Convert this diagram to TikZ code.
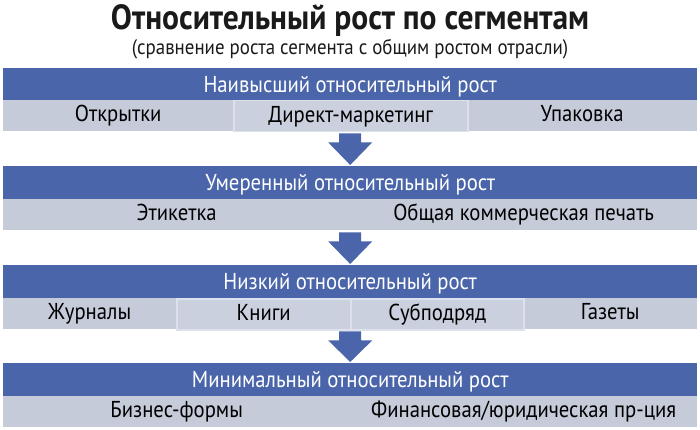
\documentclass[tikz,border=0pt]{standalone}
\usepackage{fontspec}
\setmainfont{PT Sans}[FakeStretch=0.9]
\usetikzlibrary{calc}
\definecolor{hdrblue}{HTML}{4A65A9}
\definecolor{rowgray}{HTML}{C5CBD9}
\definecolor{cellgray}{HTML}{CAD0DD}
\definecolor{cellline}{HTML}{DCE1EB}
\definecolor{titlec}{HTML}{1A1A1A}
\tikzset{
  hdr/.style={fill=hdrblue, text=white, inner sep=0pt, minimum width=694pt, minimum height=33pt, anchor=north west, text height=16pt, text depth=0pt, font=\fontsize{23}{23}\selectfont},
  rowbar/.style={fill=rowgray, inner sep=0pt, minimum width=694pt, minimum height=31pt, anchor=north west},
  cell/.style={inner sep=0pt, minimum height=31pt, anchor=north west, text=black, text height=16pt, text depth=4pt, font=\fontsize{23}{23}\selectfont},
  hicell/.style={cell, fill=cellgray, draw=cellline, line width=1.5pt},
  blockarrow/.style={fill=hdrblue},
}
\begin{document}
\begin{tikzpicture}[x=1pt,y=-1pt]
\useasboundingbox[fill=white] (0,0) rectangle (700,430);
\node[font=\bfseries\fontsize{35}{35}\selectfont, text=titlec, inner sep=0pt, anchor=base] (title) at (350,30) {Относительный рост по сегментам};
\node[font=\fontsize{21}{21}\selectfont, text=titlec, inner sep=0pt, anchor=base] (sub) at (350,55) {(сравнение роста сегмента с общим ростом отрасли)};
% band 1
\node[hdr] (h1) at (3,68) {Наивысший относительный рост};
\node[rowbar] (r1) at (3,100) {};
\node[cell, minimum width=230pt] (c11) at (3,100) {Открытки};
\node[hicell, minimum width=234pt] (c12) at (233,100) {Директ-маркетинг};
\node[cell, minimum width=230pt] (c13) at (467,100) {Упаковка};
% band 2
\node[hdr] (h2) at (3,166) {Умеренный относительный рост};
\node[rowbar] (r2) at (3,199) {};
\node[cell, minimum width=347pt] (c21) at (3,199) {Этикетка};
\node[cell, minimum width=347pt] (c22) at (350,199) {Общая коммерческая печать};
% band 3
\node[hdr] (h3) at (3,265) {Низкий относительный рост};
\node[rowbar] (r3) at (3,298) {};
\node[cell, minimum width=173pt] (c31) at (3,298) {Журналы};
\node[hicell, minimum width=174pt] (c32) at (176,298) {Книги};
\node[hicell, minimum width=173pt] (c33) at (350,298) {Субподряд};
\node[cell, minimum width=174pt] (c34) at (523,298) {Газеты};
% band 4
\node[hdr] (h4) at (3,363) {Минимальный относительный рост};
\node[rowbar] (r4) at (3,396) {};
\node[cell, minimum width=347pt] (c41) at (3,396) {Бизнес-формы};
\node[cell, minimum width=347pt] (c42) at (350,396) {Финансовая/юридическая пр-ция};
% arrows
\foreach \a/\b in {r1/h2, r2/h3, r3/h4}{
  \fill[blockarrow] ($(\a.south)+(-11,2)$) -- ++(22,0) -- ++(0,9) -- ++(11,0)
     -- ($(\b.north)+(0,-1)$) -- ($(\a.south)+(-22,11)$) -- ++(11,0) -- cycle;
}
\end{tikzpicture}
\end{document}
